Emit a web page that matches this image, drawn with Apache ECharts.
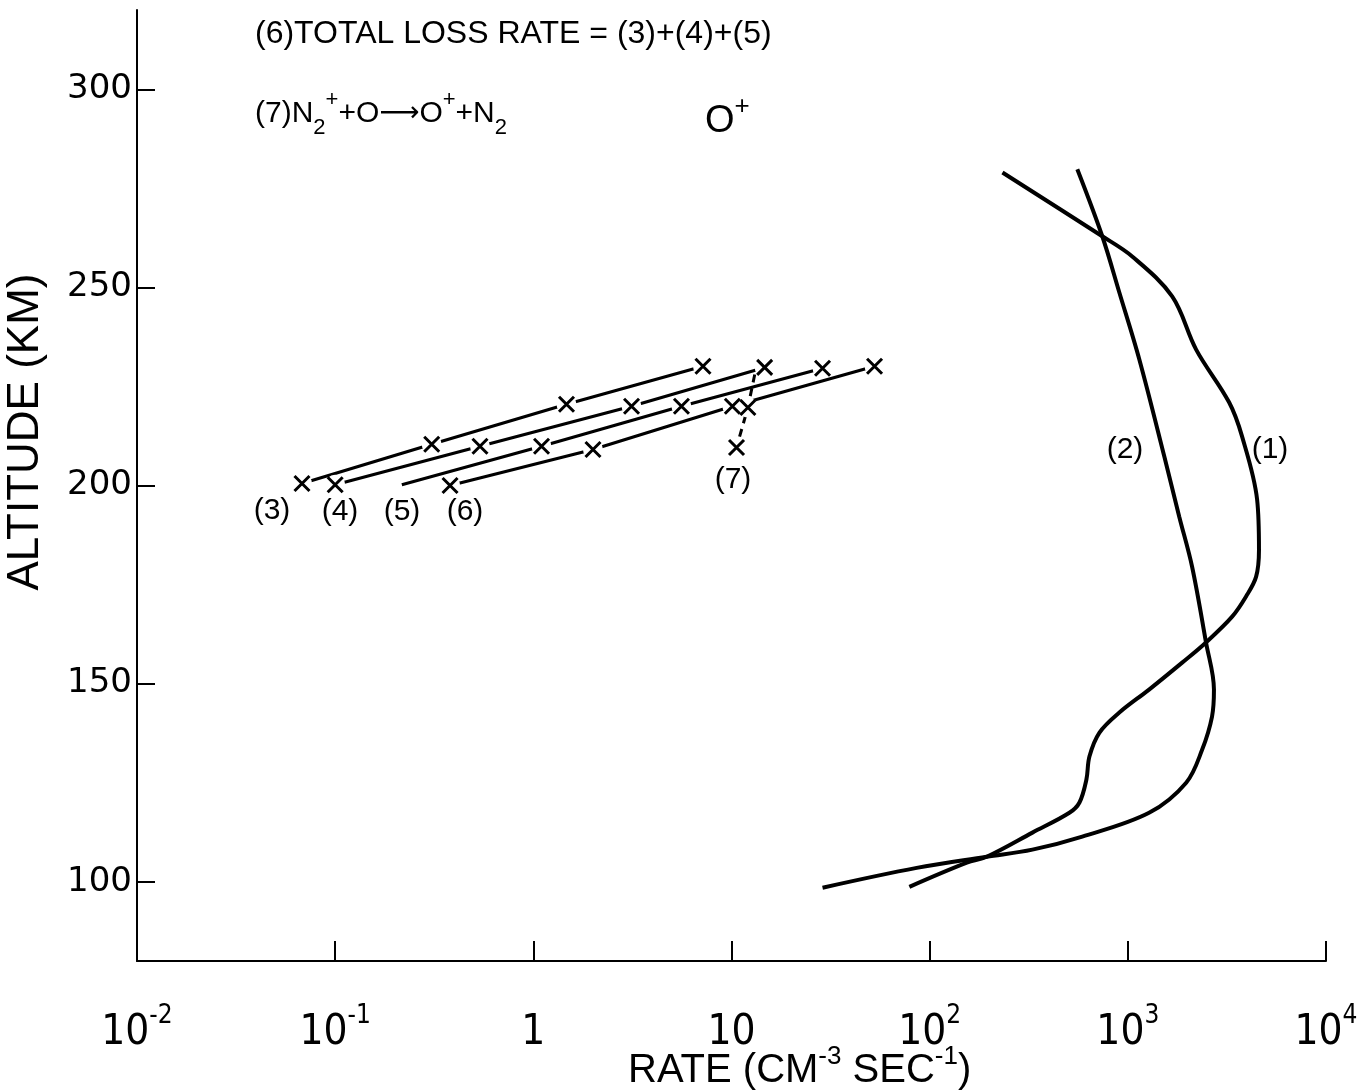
<!DOCTYPE html>
<html><head><meta charset="utf-8">
<script src="https://cdn.jsdelivr.net/npm/echarts@6/dist/echarts.min.js"></script>
<style>html,body{margin:0;padding:0;background:#fff}#c{width:1371px;height:1091px}</style>
</head><body><div id="c"></div>
<script>
// ---- axes ----
const xLabelValues = [0.01, 0.1, 1, 10, 100, 1000, 10000];
const xTickValues = [0.1, 1, 10, 100, 1000, 10000];
const yTickValues = [100, 150, 200, 250, 300];

// ---- curve (1) ----
const rate1 = [233, 743, 1052, 1674, 2212, 3243, 3770, 4490, 4590, 4440, 3950, 3360, 2480, 1880, 1280, 906, 718, 640, 618, 570, 507, 330, 194, 154, 79];
const alt1  = [279.0, 262.9, 257.8, 247.7, 234.3, 221.0, 212.4, 196.5, 183.8, 177.0, 172.0, 166.9, 160.4, 155.3, 148.5, 142.7, 137.6, 131.6, 125.8, 120.0, 117.4, 112.4, 106.3, 104.8, 98.7];
// ---- curve (2) ----
const rate2 = [556, 743, 906, 1143, 1528, 1816, 2110, 2480, 2720, 2660, 2370, 1970, 1280, 589, 330, 194, 86, 28.8];
const alt2  = [279.8, 262.9, 248.7, 231.8, 207.3, 192.2, 179.5, 160.4, 148.5, 141.7, 133.3, 125.0, 117.4, 111.4, 108.1, 106.3, 103.5, 98.5];
// ---- curves (3)-(6) ----
const rate3 = [0.068, 0.307, 1.47, 7.18];
const alt3  = [200.5, 210.4, 220.5, 230.1];
const mark3 = [true, true, true, true];
const rate4 = [0.100, 0.538, 3.13, 14.7];
const alt4  = [200.2, 209.9, 220.0, 229.8];
const mark4 = [true, true, true, true];
const rate5 = [0.217, 1.10, 5.59, 28.8];
const alt5  = [200.2, 209.9, 220.0, 229.6];
const mark5 = [false, true, true, true];
const rate6 = [0.380, 2.00, 10.1, 52.7];
const alt6  = [200.0, 209.1, 220.0, 230.1];
const mark6 = [true, true, true, true];
// ---- curve (7) dashed ----
const rate7 = [13.1, 12.1, 10.6];
const alt7  = [228.0, 219.7, 209.6];
const mark7 = [false, true, true];

const pairs = (r, a) => r.map((v, i) => [v, a[i]]);
const marked = (r, a, m) => r.map((v, i) => [v, a[i]]).filter((_, i) => m[i]);

const FONT = '"Liberation Sans", Arial, sans-serif';
const NARROW = '"Liberation Sans Narrow", "DejaVu Sans Condensed", "Liberation Sans", sans-serif';

const crossPts = [].concat(
  marked(rate3, alt3, mark3), marked(rate4, alt4, mark4), marked(rate5, alt5, mark5),
  marked(rate6, alt6, mark6), marked(rate7, alt7, mark7));

const lineStyle = (w, type) => ({ color: '#000', width: w, type: type || 'solid' });
const thin = (name, r, a) => ({
  name, type: 'line', data: pairs(r, a), showSymbol: false, symbol: 'none',
  lineStyle: lineStyle(3.2), z: 2, silent: true
});
const supRich = (px, lh) => ({ font: px + 'px ' + FONT, fill: '#000', verticalAlign: 'top', lineHeight: lh });

const chart = echarts.init(document.getElementById('c'), null, { renderer: 'canvas' });
chart.setOption({
  backgroundColor: '#fff',
  animation: false,
  grid: { left: 137, right: 45, top: 10, bottom: 130 },
  xAxis: {
    type: 'log', logBase: 10, min: 0.01, max: 10000,
    axisLine: { show: true, lineStyle: { color: '#000', width: 2 } },
    axisTick: { show: true, inside: true, length: 20, lineStyle: { color: '#000', width: 2 }, customValues: xTickValues },
    splitLine: { show: false },
    axisLabel: {
      customValues: xLabelValues,
      margin: 42,
      color: '#000', fontFamily: NARROW, fontSize: 42, lineHeight: 60,
      formatter: v => {
        const e = Math.round(Math.log10(v));
        if (e === 0) return '{b|1}';
        if (e === 1) return '{b|10}';
        return '{b|10}{s|' + (e < 0 ? '-' : '') + Math.abs(e) + '}';
      },
      rich: {
        b: { fontFamily: NARROW, fontSize: 42, lineHeight: 60, color: '#000' },
        s: { fontFamily: NARROW, fontSize: 26, lineHeight: 22, verticalAlign: 'top', color: '#000' }
      }
    }
  },
  yAxis: {
    type: 'value', min: 80, max: 320,
    axisLine: { show: true, lineStyle: { color: '#000', width: 2 } },
    axisTick: { show: true, inside: true, length: 18, lineStyle: { color: '#000', width: 2 }, customValues: yTickValues },
    splitLine: { show: false },
    axisLabel: { customValues: yTickValues, margin: 5, color: '#000', fontFamily: '"DejaVu Sans", sans-serif', fontSize: 34 }
  },
  graphic: [
    { type: 'text', x: 255, y: 34, style: { text: '(6)TOTAL LOSS RATE = (3)+(4)+(5)', font: '32px ' + FONT, fill: '#000', verticalAlign: 'middle' } },
    { type: 'text', x: 255, y: 114, style: {
      text: '(7)N{sub|2}{sup|+}+O{ar|⟶}O{sup|+}+N{sub|2}', font: '30px ' + FONT, lineHeight: 50, fill: '#000', verticalAlign: 'middle',
      rich: {
        sub: { font: '22px ' + FONT, fill: '#000', verticalAlign: 'bottom', lineHeight: 26 },
        sup: supRich(22, 20),
        ar: { font: '28px "DejaVu Sans", sans-serif', fill: '#000', lineHeight: 50 }
      } } },
    { type: 'text', x: 705, y: 122, style: {
      text: 'O{sup|+}', font: '38px ' + FONT, lineHeight: 56, fill: '#000', verticalAlign: 'middle',
      rich: { sup: supRich(26, 20) } } },
    { type: 'text', x: 26, y: 432, rotation: Math.PI / 2, style: { text: 'ALTITUDE (KM)', font: '44px ' + FONT, fill: '#000', align: 'center', verticalAlign: 'middle' } },
    { type: 'text', x: 628, y: 1071, style: {
      text: 'RATE (CM{sup|-3} SEC{sup|-1})', font: '40px ' + FONT, lineHeight: 54, fill: '#000', verticalAlign: 'middle',
      rich: { sup: supRich(26, 20) } } },
    { type: 'text', x: 272, y: 511, style: { text: '(3)', font: '30px ' + FONT, fill: '#000', align: 'center', verticalAlign: 'middle' } },
    { type: 'text', x: 340, y: 512, style: { text: '(4)', font: '30px ' + FONT, fill: '#000', align: 'center', verticalAlign: 'middle' } },
    { type: 'text', x: 402, y: 512, style: { text: '(5)', font: '30px ' + FONT, fill: '#000', align: 'center', verticalAlign: 'middle' } },
    { type: 'text', x: 465, y: 512, style: { text: '(6)', font: '30px ' + FONT, fill: '#000', align: 'center', verticalAlign: 'middle' } },
    { type: 'text', x: 733, y: 480, style: { text: '(7)', font: '30px ' + FONT, fill: '#000', align: 'center', verticalAlign: 'middle' } },
    { type: 'text', x: 1125, y: 450, style: { text: '(2)', font: '30px ' + FONT, fill: '#000', align: 'center', verticalAlign: 'middle' } },
    { type: 'text', x: 1270, y: 450, style: { text: '(1)', font: '30px ' + FONT, fill: '#000', align: 'center', verticalAlign: 'middle' } }
  ],
  series: [
    { name: '(1)', type: 'line', data: pairs(rate1, alt1), showSymbol: false, symbol: 'none', smooth: 0.35, smoothMonotone: 'none', lineStyle: lineStyle(4), z: 2 },
    { name: '(2)', type: 'line', data: pairs(rate2, alt2), showSymbol: false, symbol: 'none', smooth: 0.35, smoothMonotone: 'none', lineStyle: lineStyle(4), z: 2 },
    thin('(3)', rate3, alt3),
    thin('(4)', rate4, alt4),
    thin('(5)', rate5, alt5),
    thin('(6)', rate6, alt6),
    { name: '(7)', type: 'line', data: pairs(rate7, alt7), showSymbol: false, symbol: 'none', lineStyle: { color: '#000', width: 3, type: [8, 6] }, z: 2 },
    { name: 'mask', type: 'scatter', data: crossPts, symbol: 'circle', symbolSize: 20, itemStyle: { color: '#fff', opacity: 1 }, z: 3, silent: true },
    { name: 'cross', type: 'scatter', data: crossPts, symbol: 'path://M0,0L10,10M10,0L0,10', symbolSize: 15,
      itemStyle: { color: '#000', borderColor: '#000', borderWidth: 3, opacity: 1 }, z: 4, silent: true }
  ]
});
</script></body></html>
